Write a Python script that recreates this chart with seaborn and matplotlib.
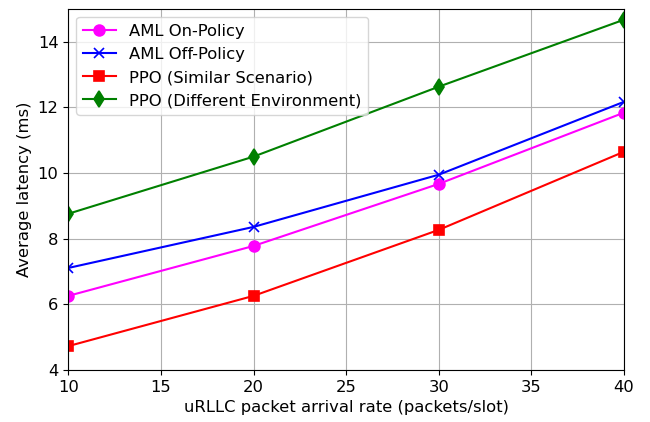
import pandas as pd
import matplotlib
matplotlib.use("Agg")
import matplotlib.pyplot as plt
import seaborn as sns

# Data
arrival_rate = [10, 20, 30, 40]
aml_on = [6.26, 7.78, 9.67, 11.84]
aml_off = [7.11, 8.36, 9.95, 12.17]
ppo_similar = [4.73, 6.26, 8.27, 10.65]
ppo_different = [8.76, 10.5, 12.63, 14.67]

series = [
    ("AML On-Policy", aml_on, "magenta", "o"),
    ("AML Off-Policy", aml_off, "blue", "x"),
    ("PPO (Similar Scenario)", ppo_similar, "red", "s"),
    ("PPO (Different Environment)", ppo_different, "green", "d"),
]

plt.rcParams["font.size"] = 11.8
fig, ax = plt.subplots(figsize=(6.5, 4.22), dpi=100)
fig.subplots_adjust(left=0.105, right=0.96, top=0.979, bottom=0.123)

for name, vals, color, marker in series:
    df = pd.DataFrame({"rate": arrival_rate, "latency": vals})
    sns.lineplot(data=df, x="rate", y="latency", ax=ax, color=color,
                 marker=marker, markersize=7.8, linewidth=1.5, label=name,
                 markeredgecolor=color, mew=1.2)

ax.set_xlim(10, 40)
ax.set_ylim(4, 15)
ax.set_xticks([10, 15, 20, 25, 30, 35, 40])
ax.set_yticks([4, 6, 8, 10, 12, 14])
ax.grid(True, color="#b0b0b0", linewidth=0.8)
ax.set_xlabel("uRLLC packet arrival rate (packets/slot)")
ax.set_ylabel("Average latency (ms)")
ax.legend(loc="upper left")

fig.savefig("out.png", dpi=100)
